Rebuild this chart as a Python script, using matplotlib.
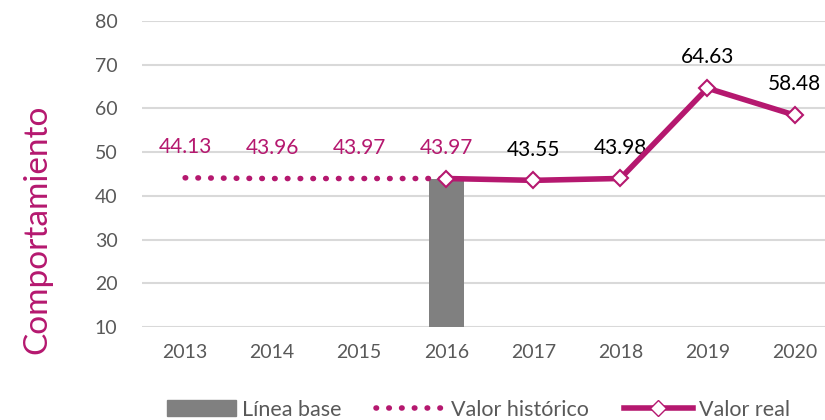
import matplotlib
matplotlib.use('Agg')
import matplotlib.pyplot as plt
from matplotlib.lines import Line2D
from matplotlib.patches import Patch

plt.rcParams['font.family'] = ['Lato', 'DejaVu Sans']

# data
years = ['2013', '2014', '2015', '2016', '2017', '2018', '2019', '2020']
hist_vals = [44.13, 43.96, 43.97, 43.97]
real_vals = [43.97, 43.55, 43.98, 64.63, 58.48]
base_val = 43.97

MAGENTA = '#B5186F'
GRAY = '#808080'
TXT = '#595959'

fig = plt.figure(figsize=(8.25, 4.2), dpi=100)
ax = fig.add_axes([0.1727, 0.2214, 0.8273, 0.7286])

x_hist = list(range(len(hist_vals)))
x_real = list(range(3, 3 + len(real_vals)))

ax.bar(3, base_val - 10, bottom=10, width=0.4, color=GRAY, zorder=2)
ax.plot(x_hist, hist_vals, linestyle=(0, (0.1, 2.2)), dash_capstyle='round',
        color=MAGENTA, linewidth=4, zorder=3)
ax.plot(x_real, real_vals, color=MAGENTA, linewidth=4, marker='D', markersize=8,
        markerfacecolor='white', markeredgecolor=MAGENTA, markeredgewidth=1.5, zorder=4)

for x, v in zip(x_hist, hist_vals):
    ax.annotate('{:.2f}'.format(v), (x, v), xytext=(0, 15), textcoords='offset points',
                ha='center', va='bottom', color=MAGENTA, fontsize=15)
for x, v in zip(x_real[1:], real_vals[1:]):
    ax.annotate('{:.2f}'.format(v), (x, v), xytext=(0, 15), textcoords='offset points',
                ha='center', va='bottom', color='black', fontsize=15)

ax.set_xlim(-0.49, 7.35)
ax.set_ylim(10, 80)
ax.set_yticks(range(10, 81, 10))
ax.set_xticks(range(len(years)))
ax.set_xticklabels(years)
ax.tick_params(axis='both', length=0, labelsize=14, colors=TXT)
ax.tick_params(axis='x', pad=12)
ax.tick_params(axis='y', pad=18)
ax.yaxis.grid(True, color='#D9D9D9', linewidth=1.5, zorder=0)
ax.set_axisbelow(True)
for s in ax.spines.values():
    s.set_visible(False)

fig.text(0.045, 0.455, 'Comportamiento', rotation=90, color=MAGENTA, fontsize=24,
         ha='center', va='center')

handles = [Patch(color=GRAY, label='Línea base'),
           Line2D([], [], color=MAGENTA, linestyle=(0, (0.1, 2.2)), dash_capstyle='round',
                  linewidth=4, label='Valor histórico'),
           Line2D([], [], color=MAGENTA, linewidth=4, marker='D', markersize=8,
                  markerfacecolor='white', markeredgecolor=MAGENTA, label='Valor real')]
leg = fig.legend(handles=handles, loc='lower center', bbox_to_anchor=(0.58, -0.045), ncol=3,
                 frameon=False, handlelength=3.2, handletextpad=0.3, columnspacing=1.6,
                 prop={'size': 15.5})
for t in leg.get_texts():
    t.set_color(TXT)

fig.savefig('out.png', dpi=100)
